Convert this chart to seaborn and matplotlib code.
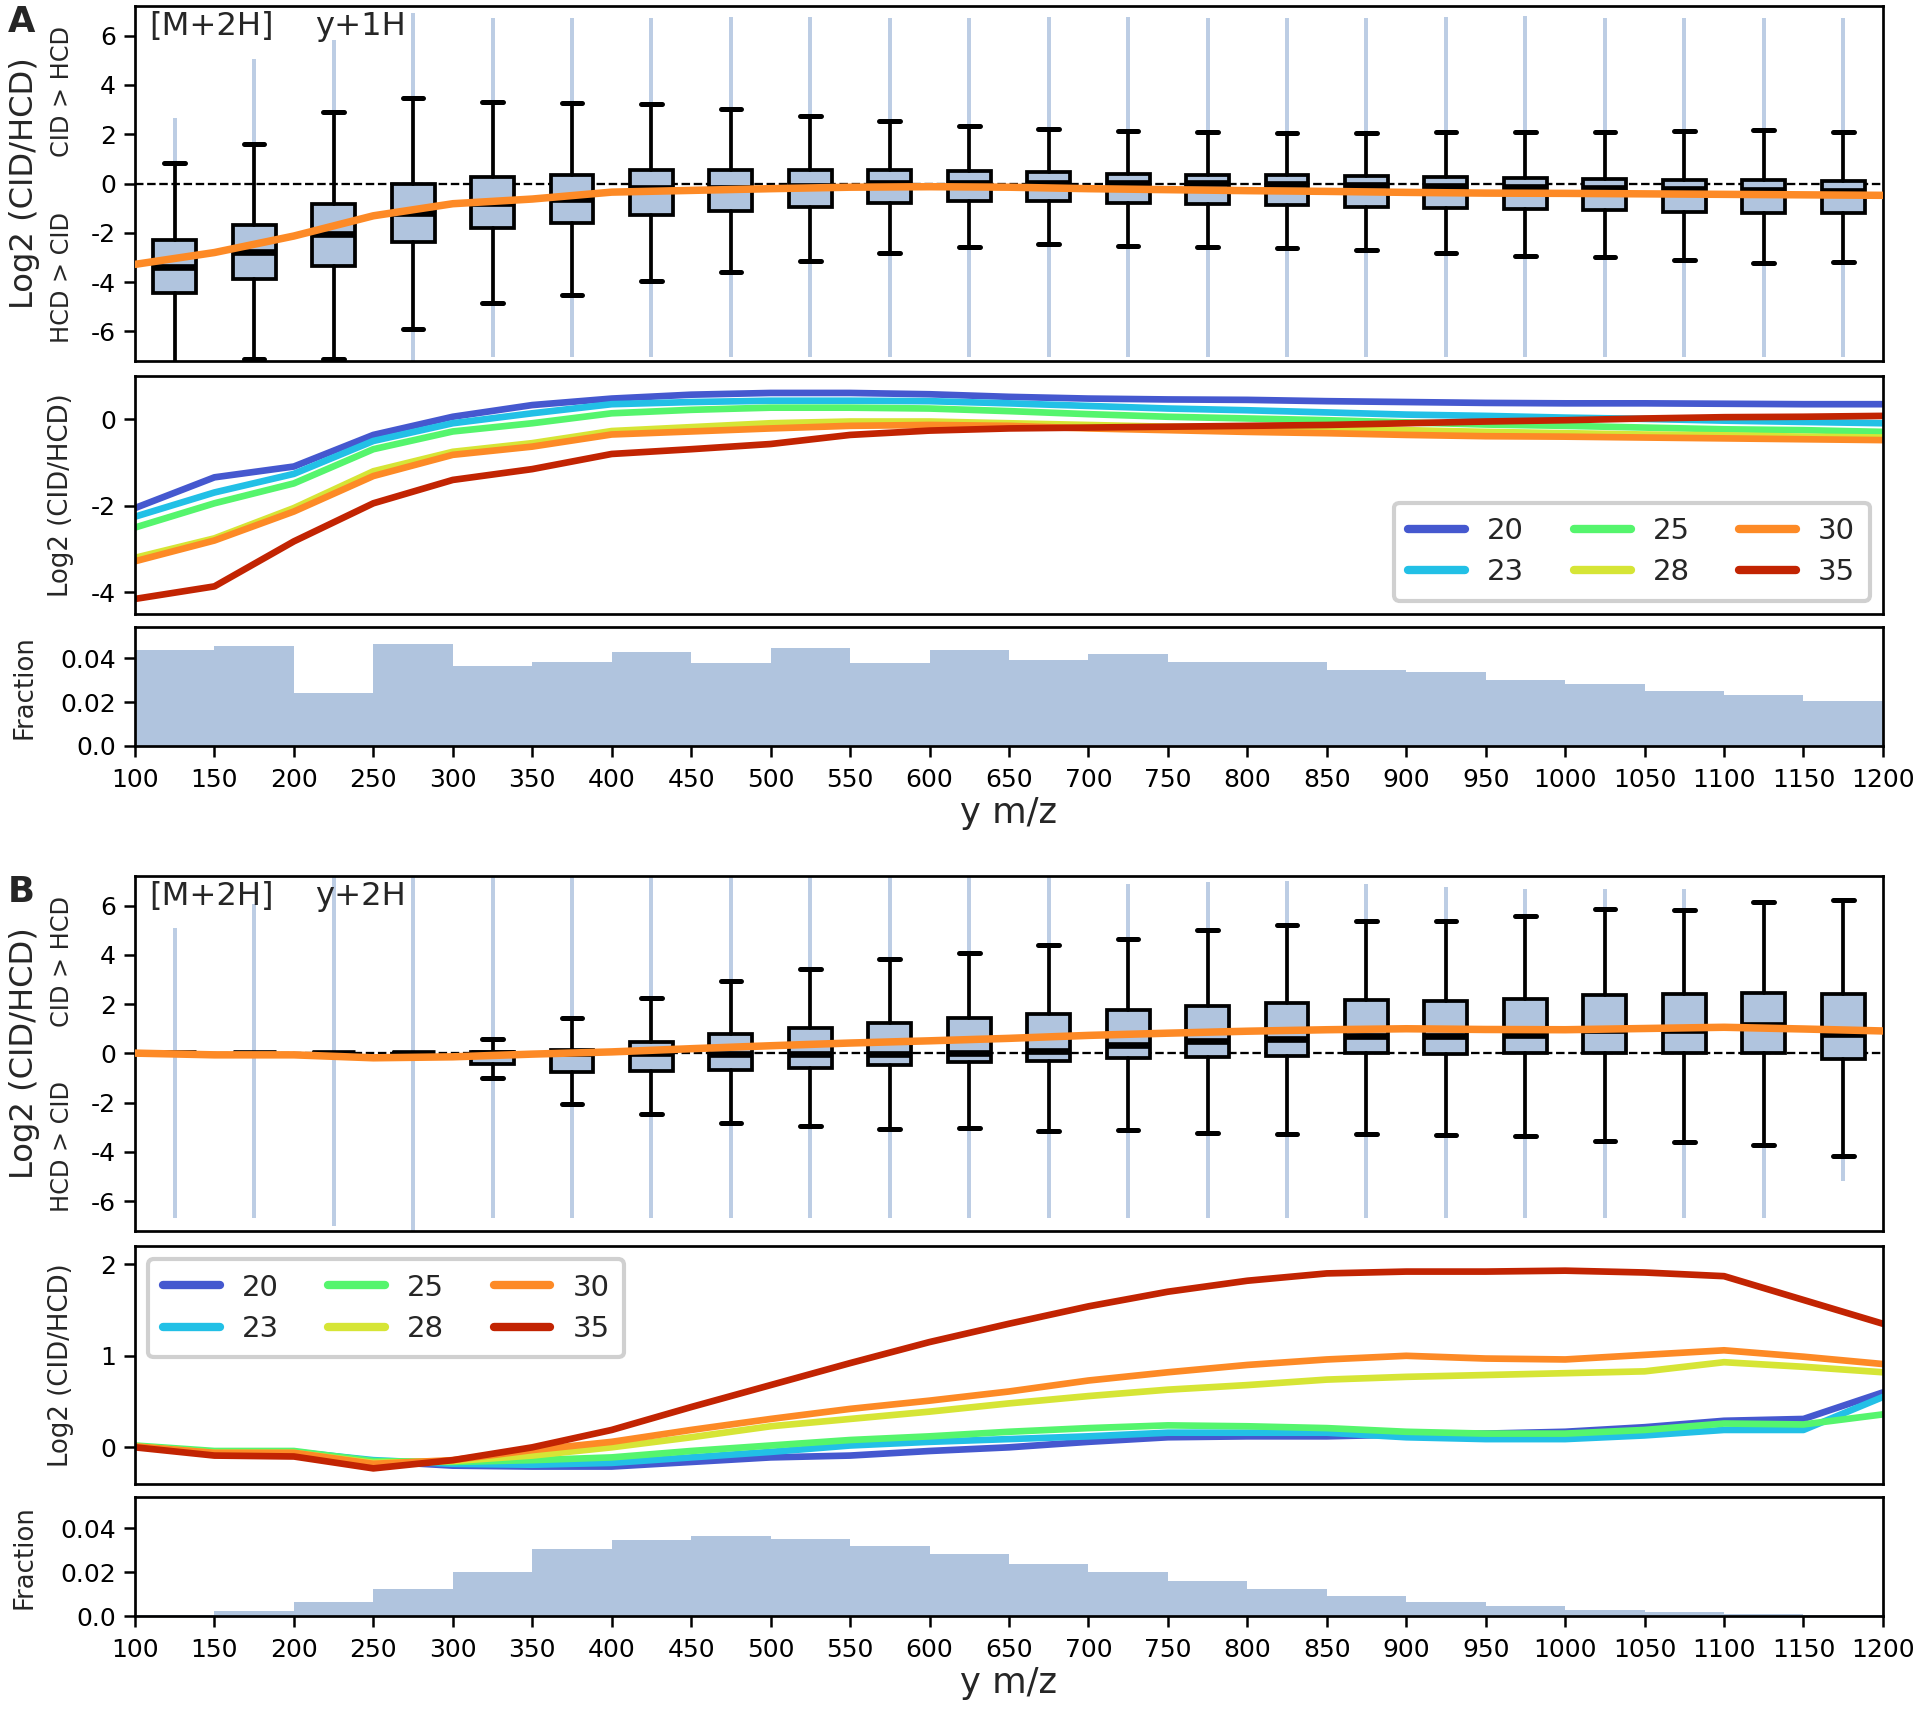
"""
Log2 (CID/HCD) ratio of y ions vs m/z - [M+2H] precursors, y+1H (A) and y+2H (B)
"""
import numpy as np
import pandas as pd
import matplotlib.pyplot as plt
import seaborn as sns

sns.set_theme(style="ticks")
plt.rcParams["font.family"] = ["DejaVu Sans"]
plt.rcParams["axes.unicode_minus"] = False
plt.rcParams["axes.edgecolor"] = "black"
plt.rcParams["axes.linewidth"] = 1.3
plt.rcParams["xtick.major.size"] = 5.5
plt.rcParams["ytick.major.size"] = 5.5
plt.rcParams["xtick.major.width"] = 1.2
plt.rcParams["ytick.major.width"] = 1.2
plt.rcParams["xtick.color"] = "black"
plt.rcParams["ytick.color"] = "black"

# ---------------------------------------------------------
# DATA
# ---------------------------------------------------------
mz_knots = list(range(100, 1201, 50))      # line knots / histogram bin edges
bin_mid = list(range(125, 1176, 50))       # box plot positions
nce_labels = ["20", "23", "25", "28", "30", "35"]
nce_colors = ["#4558cf", "#22c0e6", "#55f56d", "#d6e536", "#fd8a26", "#c22402"]

# --- panel A : y+1H, mean log2 ratio per collision energy
a_nce20 = [-2.05, -1.34, -1.09, -0.36, 0.06, 0.33, 0.48, 0.57, 0.61, 0.61, 0.58, 0.52,
           0.48, 0.46, 0.45, 0.42, 0.40, 0.38, 0.37, 0.37, 0.36, 0.35, 0.35]
a_nce23 = [-2.25, -1.69, -1.26, -0.50, -0.09, 0.14, 0.35, 0.40, 0.43, 0.43, 0.42, 0.37,
           0.31, 0.25, 0.21, 0.16, 0.11, 0.08, 0.04, 0.01, -0.03, -0.06, -0.09]
a_nce25 = [-2.50, -1.94, -1.48, -0.69, -0.28, -0.09, 0.14, 0.22, 0.27, 0.27, 0.25, 0.19,
           0.12, 0.06, 0.02, -0.02, -0.07, -0.12, -0.15, -0.19, -0.23, -0.25, -0.29]
a_nce28 = [-3.20, -2.75, -2.05, -1.20, -0.75, -0.55, -0.27, -0.18, -0.09, -0.05, -0.05, -0.09,
           -0.13, -0.17, -0.19, -0.22, -0.25, -0.29, -0.32, -0.35, -0.37, -0.40, -0.42]
a_nce30 = [-3.28, -2.80, -2.13, -1.31, -0.82, -0.63, -0.35, -0.28, -0.21, -0.15, -0.13, -0.15,
           -0.21, -0.25, -0.29, -0.32, -0.36, -0.39, -0.40, -0.42, -0.44, -0.46, -0.48]
a_nce35 = [-4.15, -3.86, -2.82, -1.94, -1.40, -1.15, -0.80, -0.69, -0.57, -0.36, -0.26, -0.21,
           -0.19, -0.17, -0.15, -0.13, -0.09, -0.05, -0.02, 0.02, 0.05, 0.06, 0.08]

# box statistics, panel A
a_med = [-3.37, -2.76, -2.04, -1.21, -0.80, -0.62, -0.20, -0.18, -0.12, 0.02, 0.03, 0.03,
         0.03, 0.01, -0.04, -0.08, -0.11, -0.15, -0.20, -0.24, -0.27, -0.31]
a_q1 = [-4.45, -3.86, -3.34, -2.37, -1.81, -1.59, -1.27, -1.12, -0.96, -0.81, -0.71, -0.71,
        -0.78, -0.82, -0.89, -0.94, -0.98, -1.05, -1.09, -1.16, -1.19, -1.19]
a_q3 = [-2.29, -1.67, -0.84, -0.04, 0.26, 0.36, 0.54, 0.54, 0.54, 0.54, 0.50, 0.47,
        0.40, 0.36, 0.34, 0.30, 0.27, 0.23, 0.20, 0.16, 0.16, 0.12]
a_whislo = [-7.6, -7.12, -7.12, -5.90, -4.85, -4.52, -3.95, -3.57, -3.14, -2.80, -2.56, -2.47,
            -2.53, -2.56, -2.60, -2.70, -2.80, -2.94, -2.98, -3.10, -3.21, -3.17]
a_whishi = [0.84, 1.59, 2.91, 3.48, 3.30, 3.26, 3.24, 3.02, 2.75, 2.52, 2.32, 2.21,
            2.12, 2.09, 2.05, 2.05, 2.08, 2.09, 2.09, 2.12, 2.16, 2.10]
a_flier_hi = [2.66, 5.04, 5.82, 6.9, 6.7, 6.7, 6.7, 6.75, 6.75, 6.7, 6.7, 6.75,
              6.75, 6.7, 6.7, 6.7, 6.75, 6.8, 6.7, 6.7, 6.7, 6.7]
a_flier_lo = [np.nan, np.nan, np.nan, -7.2, -7.05, -7.05, -7.05, -7.05, -7.05, -7.05, -7.05, -7.05,
              -7.05, -7.05, -7.05, -7.05, -7.05, -7.05, -7.05, -7.05, -7.05, -7.05]

# fraction of ions per 50 m/z bin, panel A
a_frac = [0.0438, 0.0456, 0.0240, 0.0464, 0.0362, 0.0383, 0.0429, 0.0376, 0.0446, 0.0376, 0.0435,
          0.0392, 0.0418, 0.0382, 0.0380, 0.0344, 0.0336, 0.0300, 0.0283, 0.0251, 0.0233, 0.0205]

# --- panel B : y+2H
b_nce20 = [0.01, -0.05, -0.05, -0.15, -0.20, -0.21, -0.21, -0.16, -0.11, -0.09, -0.04, 0.00,
           0.06, 0.11, 0.12, 0.12, 0.14, 0.15, 0.17, 0.22, 0.29, 0.31, 0.60]
b_nce23 = [0.01, -0.05, -0.05, -0.14, -0.18, -0.19, -0.17, -0.11, -0.05, 0.02, 0.06, 0.09,
           0.12, 0.16, 0.16, 0.16, 0.11, 0.09, 0.09, 0.13, 0.19, 0.19, 0.55]
b_nce25 = [0.02, -0.04, -0.04, -0.15, -0.16, -0.14, -0.11, -0.04, 0.02, 0.08, 0.12, 0.17,
           0.21, 0.24, 0.23, 0.21, 0.17, 0.15, 0.15, 0.19, 0.26, 0.25, 0.36]
b_nce28 = [0.01, -0.06, -0.06, -0.17, -0.15, -0.09, 0.00, 0.11, 0.23, 0.31, 0.39, 0.48,
           0.56, 0.63, 0.68, 0.74, 0.77, 0.79, 0.81, 0.83, 0.93, 0.88, 0.82]
b_nce30 = [0.01, -0.06, -0.06, -0.18, -0.14, -0.03, 0.06, 0.19, 0.31, 0.42, 0.51, 0.61,
           0.73, 0.82, 0.90, 0.96, 1.00, 0.97, 0.96, 1.01, 1.06, 0.99, 0.91]
b_nce35 = [0.00, -0.09, -0.10, -0.23, -0.14, 0.00, 0.19, 0.44, 0.68, 0.92, 1.15, 1.35,
           1.54, 1.70, 1.82, 1.90, 1.92, 1.92, 1.93, 1.91, 1.87, 1.61, 1.35]

b_med = [0.0, 0.0, 0.0, 0.0, 0.0, 0.0, 0.0, -0.04, -0.01, -0.01, 0.0, 0.11,
         0.36, 0.49, 0.59, 0.70, 0.70, 0.75, 0.95, 0.94, 1.15, 0.78]
b_q1 = [0.0, 0.0, 0.0, 0.0, -0.43, -0.74, -0.70, -0.67, -0.58, -0.47, -0.36, -0.31,
        -0.19, -0.13, -0.09, 0.0, -0.04, 0.0, 0.0, 0.0, 0.0, -0.24]
b_q3 = [0.0, 0.0, 0.0, 0.0, 0.07, 0.13, 0.47, 0.80, 1.04, 1.25, 1.42, 1.58,
        1.75, 1.93, 2.06, 2.16, 2.13, 2.22, 2.39, 2.41, 2.47, 2.41]
b_whislo = [0.0, 0.0, 0.0, 0.0, -1.01, -2.06, -2.47, -2.82, -2.96, -3.07, -3.03, -3.17,
            -3.10, -3.23, -3.27, -3.26, -3.30, -3.34, -3.57, -3.60, -3.71, -4.15]
b_whishi = [0.0, 0.0, 0.0, 0.0, 0.58, 1.42, 2.25, 2.92, 3.42, 3.85, 4.08, 4.41,
            4.65, 5.01, 5.23, 5.39, 5.36, 5.57, 5.86, 5.81, 6.15, 6.21]
b_flier_hi = [5.1, 6.06, 7.2, 7.2, 7.2, 7.2, 7.2, 7.2, 7.2, 7.2, 7.2, 7.2,
              6.87, 6.94, 7.0, 6.87, 6.74, 6.67, 6.67, 6.67, np.nan, np.nan]
b_flier_lo = [-6.67, -6.67, -7.0, -7.2, -6.67, -6.67, -6.67, -6.67, -6.67, -6.67, -6.67, -6.67,
              -6.67, -6.67, -6.67, -6.67, -6.67, -6.67, -6.67, -6.67, -6.67, -5.2]

b_frac = [0.0006, 0.0023, 0.0062, 0.0123, 0.0202, 0.0304, 0.0347, 0.0363, 0.0350, 0.0319, 0.0281,
          0.0237, 0.0198, 0.0158, 0.0122, 0.0091, 0.0064, 0.0044, 0.0029, 0.0018, 0.0009, 0.0005]

BOX_BLUE = "#b0c4de"
FLIER_BLUE = "#bccde4"
ORANGE = nce_colors[4]


def long_form(series):
    frames = []
    for lab, vals in zip(nce_labels, series):
        frames.append(pd.DataFrame({"mz": mz_knots, "log2": vals, "NCE": lab}))
    return pd.concat(frames, ignore_index=True)


def draw_boxes(ax, med, q1, q3, wlo, whi, flo, fhi, trend, tag):
    # outlier columns (dense stacks of tiny circles in the original)
    for x, w, f in zip(bin_mid, whi, fhi):
        if not np.isnan(f) and f > w:
            ax.vlines(x, w, f, color=FLIER_BLUE, lw=1.9, zorder=1)
    for x, w, f in zip(bin_mid, wlo, flo):
        if not np.isnan(f) and f < w:
            ax.vlines(x, f, w, color=FLIER_BLUE, lw=1.9, zorder=1)
    ax.axhline(0, color="black", ls="--", lw=1.1, zorder=1.5)
    stats = [dict(med=m, q1=a, q3=b, whislo=lo, whishi=hi, fliers=[])
             for m, a, b, lo, hi in zip(med, q1, q3, wlo, whi)]
    ax.bxp(stats, positions=bin_mid, widths=27, capwidths=13, patch_artist=True,
           showfliers=False, manage_ticks=False, zorder=2,
           boxprops=dict(facecolor=BOX_BLUE, edgecolor="black", linewidth=1.8),
           whiskerprops=dict(color="black", linewidth=1.8),
           capprops=dict(color="black", linewidth=2.4),
           medianprops=dict(color="black", linewidth=3.2))
    sns.lineplot(x=mz_knots, y=trend, ax=ax, color=ORANGE, lw=3.6, zorder=5)
    ax.set_xlim(100, 1200)
    ax.set_ylim(-7.2, 7.2)
    ax.set_yticks([-6, -4, -2, 0, 2, 4, 6])
    ax.tick_params(axis="y", labelsize=12)
    ax.tick_params(axis="x", bottom=False, labelbottom=False)
    ax.set_xlabel("")
    ax.set_ylabel("")
    tr = ax.get_yaxis_transform()
    ax.text(-0.063, 0, "Log2 (CID/HCD)", transform=tr, rotation=90,
            ha="center", va="center", fontsize=15.5)
    ax.text(-0.042, 3.75, "CID > HCD", transform=tr, rotation=90,
            ha="center", va="center", fontsize=11.5)
    ax.text(-0.042, -3.8, "HCD > CID", transform=tr, rotation=90,
            ha="center", va="center", fontsize=11.5)
    ax.text(0.008, 0.985, "[M+2H]", transform=ax.transAxes, ha="left", va="top", fontsize=15.5)
    ax.text(0.103, 0.985, tag, transform=ax.transAxes, ha="left", va="top", fontsize=15.5)


def draw_lines(ax, series, ylim, yticks, legend_loc):
    df = long_form(series)
    sns.lineplot(data=df, x="mz", y="log2", hue="NCE", palette=nce_colors, lw=3.2, ax=ax)
    ax.set_xlim(100, 1200)
    ax.set_ylim(*ylim)
    ax.set_yticks(yticks)
    ax.tick_params(axis="y", labelsize=12)
    ax.tick_params(axis="x", bottom=False, labelbottom=False)
    ax.set_xlabel("")
    ax.set_ylabel("Log2 (CID/HCD)", fontsize=12.5)
    ax.yaxis.set_label_coords(-0.035, 0.5)
    leg = ax.legend(ncol=3, loc=legend_loc, fontsize=14, handlelength=1.95,
                    handletextpad=0.75, columnspacing=1.7, borderpad=0.5,
                    labelspacing=0.45, borderaxespad=0.45, fancybox=True, framealpha=1)
    leg.get_frame().set_edgecolor("#d0d0d0")
    leg.get_frame().set_linewidth(2.0)
    for line in leg.get_lines():
        line.set_linewidth(4.0)


def draw_hist(ax, frac):
    sns.histplot(x=bin_mid, weights=frac, bins=mz_knots, ax=ax, color=BOX_BLUE,
                 alpha=1, linewidth=0)
    ax.set_xlim(100, 1200)
    ax.set_ylim(0, 0.054)
    ax.set_yticks([0, 0.02, 0.04])
    ax.set_yticklabels(["0.0", "0.02", "0.04"])
    ax.set_xticks(mz_knots)
    ax.tick_params(axis="y", labelsize=12)
    ax.tick_params(axis="x", labelsize=12, pad=5)
    ax.set_ylabel("Fraction", fontsize=12.5)
    ax.yaxis.set_label_coords(-0.056, 0.5)
    ax.set_xlabel("y m/z", fontsize=17, labelpad=2)


# ---------------------------------------------------------
# FIGURE
# ---------------------------------------------------------
fig = plt.figure(figsize=(12.8, 11.4067), dpi=150)
L, W = 0.0703, 0.9104

ax_a_box = fig.add_axes([L, 0.7890, W, 0.2075])
ax_a_line = fig.add_axes([L, 0.6411, W, 0.1391])
ax_a_hist = fig.add_axes([L, 0.5640, W, 0.0694])
ax_b_box = fig.add_axes([L, 0.2807, W, 0.2073])
ax_b_line = fig.add_axes([L, 0.1327, W, 0.1391])
ax_b_hist = fig.add_axes([L, 0.0555, W, 0.0694])

draw_boxes(ax_a_box, a_med, a_q1, a_q3, a_whislo, a_whishi, a_flier_lo, a_flier_hi,
           a_nce30, "y+1H")
draw_lines(ax_a_line, [a_nce20, a_nce23, a_nce25, a_nce28, a_nce30, a_nce35],
           (-4.5, 1.0), [-4, -2, 0], "lower right")
draw_hist(ax_a_hist, a_frac)

draw_boxes(ax_b_box, b_med, b_q1, b_q3, b_whislo, b_whishi, b_flier_lo, b_flier_hi,
           b_nce30, "y+2H")
draw_lines(ax_b_line, [b_nce20, b_nce23, b_nce25, b_nce28, b_nce30, b_nce35],
           (-0.4, 2.2), [0, 1, 2], "upper left")
draw_hist(ax_b_hist, b_frac)

for ax in fig.axes:
    for sp in ax.spines.values():
        sp.set_visible(True)
        sp.set_color("black")

fig.text(0.0042, 0.987, "A", fontsize=17, fontweight="bold", ha="left", va="center")
fig.text(0.0042, 0.4785, "B", fontsize=17, fontweight="bold", ha="left", va="center")

fig.savefig("out.png", dpi=150)
plt.close(fig)
